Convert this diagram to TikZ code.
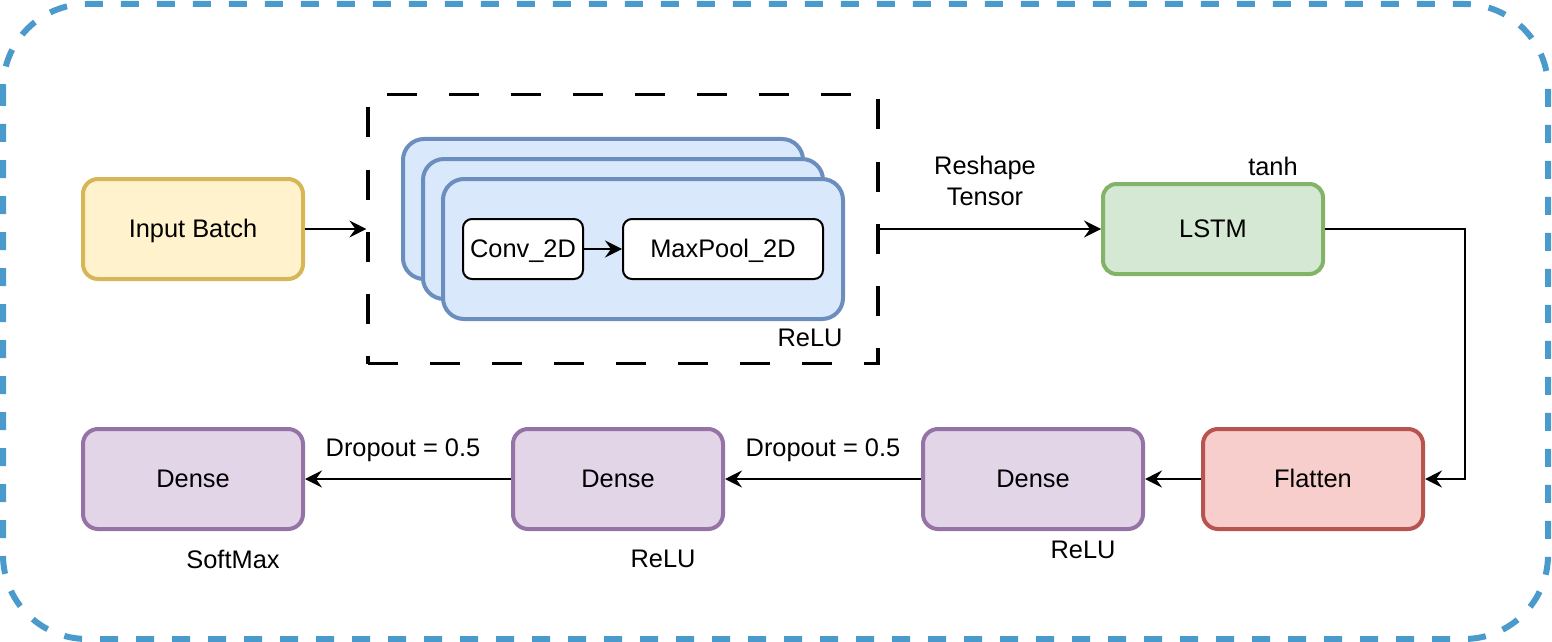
\documentclass[tikz,border=0pt]{standalone}
\usepackage{fontspec}
\setmainfont{Liberation Sans}
\usetikzlibrary{arrows.meta}

\definecolor{frameblue}{HTML}{4A9BCC}
\definecolor{inputfill}{HTML}{FFF2CC}
\definecolor{inputdraw}{HTML}{D6B656}
\definecolor{convfill}{HTML}{DAE8FC}
\definecolor{convdraw}{HTML}{6C8EBF}
\definecolor{lstmfill}{HTML}{D5E8D4}
\definecolor{lstmdraw}{HTML}{82B366}
\definecolor{flatfill}{HTML}{F8CECC}
\definecolor{flatdraw}{HTML}{B85450}
\definecolor{densefill}{HTML}{E1D5E7}
\definecolor{densedraw}{HTML}{9673A6}

\begin{document}
\begin{tikzpicture}[x=0.5pt, y=-0.5pt,
    font=\fontsize{12.7}{15.2}\selectfont,
    >={Stealth[length=8.5pt, width=8.5pt, inset=3pt]},
    layer/.style={draw, rounded corners=7.5pt, line width=2pt,
        minimum width=110pt, minimum height=50pt, inner sep=0pt,
        text height=0.92em, text depth=0.1em},
    stackbox/.style={layer, fill=convfill, draw=convdraw,
        rounded corners=10.5pt, minimum width=200pt, minimum height=70pt},
    opbox/.style={draw, fill=white, rounded corners=4.5pt, line width=1pt,
        minimum height=30pt, inner sep=0pt, text height=0.92em, text depth=0.1em},
    link/.style={->, line width=1pt},
    note/.style={inner sep=0pt}]

    \useasboundingbox (0,0) rectangle (1552,642);

    % 外框
    \draw[frameblue, line width=3pt, dash pattern=on 9pt off 9pt,
        rounded corners=42pt] (3,4) rectangle (1548,639);

    % CNN 虚线框
    \node[draw, line width=1.6pt, dash pattern=on 15pt off 16pt,
        minimum width=255pt, minimum height=134.5pt, inner sep=0pt]
        (cnnbox) at (623,229) {};

    % 三层堆叠的卷积块
    \node[stackbox] (stackA) at (603,209) {};
    \node[stackbox] (stackB) at (623,229) {};
    \node[stackbox] (stackC) at (643,249) {};
    \node[opbox, minimum width=60pt] (conv) at (523,249) {Conv\_2D};
    \node[opbox, minimum width=100pt] (pool) at (723,249) {MaxPool\_2D};
    \node[note] (cnnact) at (810,338) {ReLU};

    % 上面一行
    \node[layer, fill=inputfill, draw=inputdraw] (input) at (193,229) {Input Batch};
    \node[layer, fill=lstmfill, draw=lstmdraw, minimum height=45pt,
        rounded corners=6.75pt] (lstm) at (1213,229) {LSTM};
    \node[note] (lstmact) at (1273,166) {tanh};
    \node[note, align=center] (reshape) at (985,181) {Reshape\\Tensor};

    % 下面一行
    \node[layer, fill=flatfill, draw=flatdraw] (flatten) at (1313,479) {Flatten};
    \node[layer, fill=densefill, draw=densedraw] (denseC) at (1033,479) {Dense};
    \node[layer, fill=densefill, draw=densedraw, minimum width=105pt]
        (denseB) at (618,479) {Dense};
    \node[layer, fill=densefill, draw=densedraw] (denseA) at (193,479) {Dense};
    \node[note] (actC) at (1083,550) {ReLU};
    \node[note] (actB) at (663,559) {ReLU};
    \node[note] (actA) at (233,559) {SoftMax};
    \node[note] (dropB) at (823,450) {Dropout = 0.5};
    \node[note] (dropA) at (403,450) {Dropout = 0.5};

    % 连线
    \draw[link] (conv) -- (pool);
    \draw[link] (input) -- (cnnbox);
    \draw[link] (cnnbox) -- (lstm);
    \draw[link] (lstm.east) -- ++(140,0) |- (flatten.east);
    \draw[link] (flatten) -- (denseC);
    \draw[link] (denseC) -- (denseB);
    \draw[link] (denseB) -- (denseA);
\end{tikzpicture}
\end{document}
